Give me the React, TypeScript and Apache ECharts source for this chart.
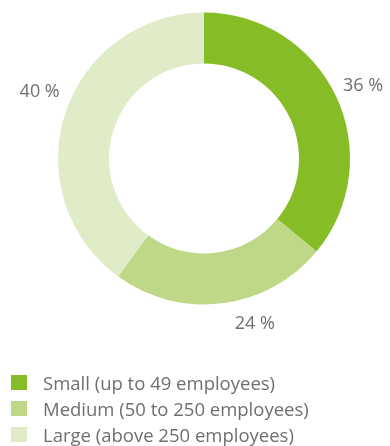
import React, { useEffect, useRef } from "react";
import * as echarts from "echarts";

const categories = [
  "Small (up to 49 employees)",
  "Medium (50 to 250 employees)",
  "Large (above 250 employees)",
];
const shares = [36, 24, 40];
const colors = ["#86bc25", "#bfd888", "#e0ebc8"];
const labelNudge: [number, number][] = [
  [-9, -7],
  [6, 7],
  [11, -20],
];

export default function App() {
  const ref = useRef<HTMLDivElement>(null);
  useEffect(() => {
    document.body.style.margin = "0";
    const chart = echarts.init(ref.current!, null, { renderer: "svg" });
    chart.setOption({
      animation: false,
      color: colors,
      legend: {
        orient: "vertical",
        left: 11,
        top: 373,
        height: 120,
        padding: 0,
        itemWidth: 16,
        itemHeight: 15,
        itemGap: 7,
        icon: "rect",
        selectedMode: false,
        data: categories,
        textStyle: {
          fontFamily: "Open Sans",
          fontSize: 18.5,
          lineHeight: 19,
          color: "#6f6f6f",
          padding: [0, 0, 0, 11],
        },
      },
      series: [
        {
          type: "pie",
          center: [204, 158.5],
          radius: [95, 146],
          startAngle: 90,
          clockwise: true,
          silent: true,
          data: categories.map((name, i) => ({ name, value: shares[i] })),
          label: {
            show: true,
            position: "outside",
            formatter: "{c} %",
            fontFamily: "Open Sans",
            fontSize: 18,
            color: "#6f6f6f",
            overflow: "none",
          },
          labelLine: { show: false, length: 12, length2: 0 },
          labelLayout: (p: any) => ({
            dx: labelNudge[p.dataIndex][0],
            dy: labelNudge[p.dataIndex][1],
          }),
        },
      ],
    });
    return () => chart.dispose();
  }, []);
  return (
    <div
      ref={ref}
      style={{ position: "fixed", left: 0, top: 0, width: 390, height: 446 }}
    />
  );
}
